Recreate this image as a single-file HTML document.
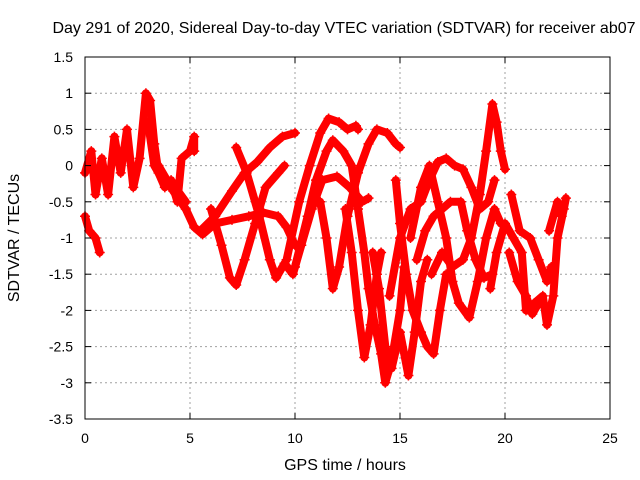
<!DOCTYPE html>
<html><head><meta charset="utf-8"><style>
body{margin:0;background:#fff;}
svg{display:block;font-family:"Liberation Sans",Arial,sans-serif;}
</style></head><body>
<svg id="chart" width="640" height="480">
<text x="344" y="33" text-anchor="middle" font-size="16">Day 291 of 2020, Sidereal Day-to-day VTEC variation (SDTVAR) for receiver ab07</text>
<text x="345" y="470" text-anchor="middle" font-size="16">GPS time / hours</text>
<text transform="translate(19,238) rotate(-90)" text-anchor="middle" font-size="16">SDTVAR / TECUs</text>
<g id="grid"></g><g id="series"></g><g id="axes"></g>
</svg>
<script>
const xTicks=[0,5,10,15,20,25];
const yTicks=[1.5,1,0.5,0,-0.5,-1,-1.5,-2,-2.5,-3,-3.5];
const yTickLabels=["1.5","1","0.5","0","-0.5","-1","-1.5","-2","-2.5","-3","-3.5"];
const traceA=[[0,-0.1],[0.3,0.2],[0.5,-0.4],[0.8,0.1],[1.1,-0.4],[1.4,0.4],[1.7,-0.1],[2.0,0.5],[2.3,-0.3],[2.6,0.1],[2.9,1.0],[3.1,0.9],[3.3,0.3],[3.5,-0.1],[3.8,-0.3],[4.1,-0.2],[4.4,-0.5],[4.6,0.1],[5.0,0.2],[5.2,0.4],[5.2,0.2]];
const traceB=[[0,-0.7],[0.2,-0.9],[0.5,-1.0],[0.7,-1.2]];
const traceC=[[3.5,0],[4.2,-0.35],[4.8,-0.6],[5.2,-0.85],[5.6,-0.95],[6.2,-0.8],[7,-0.75],[7.8,-0.7],[8.5,-0.65],[9.2,-0.7],[9.6,-0.85],[10,-1.1]];
const traceD=[[5.5,-0.9],[6.2,-0.7],[7,-0.35],[7.6,-0.1],[8.2,0.05],[8.8,0.25],[9.4,0.4],[10,0.45]];
const traceE=[[6,-0.6],[6.5,-1.1],[6.9,-1.55],[7.2,-1.65],[7.6,-1.3],[8.1,-0.8],[8.6,-0.3],[9.2,-0.1],[9.5,0.0]];
const traceF=[[7.2,0.25],[7.7,-0.1],[8.3,-0.7],[8.8,-1.3],[9.1,-1.55],[9.5,-1.35],[9.9,-1.5],[10.3,-1.1],[10.8,-0.6],[11.3,-0.2],[12,-0.15],[12.6,-0.3],[13.2,-0.5],[13.5,-0.45]];
const traceG=[[9.6,-1.3],[10.2,-0.5],[10.7,0],[11.2,0.45],[11.6,0.65],[12.1,0.6],[12.5,0.5],[12.9,0.55],[13.0,0.5]];
const traceH=[[10,-1.4],[10.6,-0.7],[11,-0.2],[11.5,0.2],[11.8,0.35],[12.3,0.2],[12.7,0],[13.0,-0.6],[13.3,-1.2],[13.5,-1.7],[13.8,-2.2],[14.1,-2.6],[14.3,-3.0],[14.6,-2.7],[15,-2.0],[15.2,-1.4]];
const traceI=[[11.2,-0.5],[11.5,-1.0],[11.8,-1.7],[12.1,-1.4],[12.5,-0.7],[13,-0.1],[13.5,0.3],[13.9,0.5],[14.4,0.45],[14.8,0.3],[15,0.25]];
const traceJ=[[12.4,-0.6],[12.7,-1.2],[13.0,-2.0],[13.3,-2.65],[13.6,-2.2],[13.9,-1.5],[14.1,-1.2]];
const traceK=[[13.7,-1.2],[14.0,-1.7],[14.3,-2.5],[14.6,-2.8],[15.0,-2.3],[15.4,-2.9],[15.7,-2.3],[16.0,-1.6],[16.3,-1.3]];
const traceL=[[14.8,-0.2],[15.0,-0.8],[15.3,-1.5],[15.6,-2.0],[16.0,-2.3],[16.3,-2.5],[16.6,-2.6],[16.9,-2.0],[17.2,-1.5]];
const traceM=[[14.5,-1.8],[15,-1.0],[15.5,-0.6],[16,-0.5],[16.4,-0.2],[16.8,0.05],[17.2,0.1],[17.6,0],[18,-0.05],[18.4,-0.3],[18.8,-0.6],[19.2,-0.5],[19.5,-0.2]];
const traceN=[[15.8,-1.3],[16.2,-0.9],[16.6,-0.7],[17.0,-0.6],[17.4,-0.5],[17.9,-0.5],[18.2,-0.9],[18.6,-1.3],[19,-1.55],[19.4,-1.5]];
const traceO=[[15.5,-1.0],[16.0,-0.3],[16.4,0],[16.8,-0.5],[17.2,-1.0],[17.5,-1.6],[17.8,-1.9],[18.3,-2.1],[18.7,-1.6],[19.1,-1.0],[19.5,-0.6],[19.8,-0.8]];
const traceP=[[16.5,-1.5],[17,-1.2],[17.5,-1.4],[18,-1.3],[18.4,-1.0],[18.8,-0.4],[19.1,0.2],[19.4,0.85],[19.6,0.6],[19.8,0.2],[20,-0.05]];
const traceQ=[[19.3,-1.7],[19.6,-1.2],[20,-0.8],[20.4,-1.0],[20.8,-1.2],[21,-2.0],[21.4,-1.9],[21.8,-1.8],[22.0,-2.2],[22.3,-1.8],[22.5,-1.0],[22.8,-0.6],[22.9,-0.45]];
const traceR=[[20.3,-0.4],[20.7,-0.9],[21.2,-1.0],[21.6,-1.3],[22,-1.6],[22.2,-1.4]];
const traceS=[[22.1,-0.9],[22.5,-0.5],[22.7,-0.7]];
const traceT=[[3.0,0.6],[3.3,0.0],[3.7,-0.2],[4.3,-0.3],[4.8,-0.5]];
const traceU=[[20.2,-1.2],[20.6,-1.6],[21.0,-1.8],[21.3,-2.05],[21.6,-1.9]];
const traces=[traceA,traceB,traceC,traceD,traceE,traceF,traceG,traceH,traceI,traceJ,traceK,traceL,traceM,traceN,traceO,traceP,traceQ,traceR,traceS,traceT,traceU];

const X0=85,X1=610,Y0=57,Y1=419;
const xs=v=>X0+(v-0)/(25-0)*(X1-X0);
const ys=v=>Y0+(1.5-v)/(1.5+3.5)*(Y1-Y0);
const NS="http://www.w3.org/2000/svg";
function mk(tag,attrs,parent){const e=document.createElementNS(NS,tag);for(const k in attrs)e.setAttribute(k,attrs[k]);parent.appendChild(e);return e;}
const grid=document.getElementById('grid'),axes=document.getElementById('axes'),series=document.getElementById('series');
xTicks.forEach((t,i)=>{
  const x=xs(t);
  if(t>0&&t<25){const g=mk('line',{x1:x,x2:x,y1:Y0,y2:Y1,stroke:'#a0a0a0','stroke-dasharray':'2,3'},grid);
  
  }
  const tk=mk('line',{x1:x,x2:x,y1:Y1,y2:Y1-6,stroke:'#000'},axes);
  
  
  const tk2=mk('line',{x1:x,x2:x,y1:Y0,y2:Y0+6,stroke:'#000'},axes);
  
  
  const tx=mk('text',{x:x,y:Y1+24,'text-anchor':'middle','font-size':14},axes);
  tx.textContent=String(t);
  
  
});
yTicks.forEach((t,i)=>{
  const y=ys(t);
  if(t<1.5&&t>-3.5){const g=mk('line',{x1:X0,x2:X1,y1:y,y2:y,stroke:'#a0a0a0','stroke-dasharray':'2,3'},grid);
  
  }
  const tk=mk('line',{x1:X0,x2:X0+6,y1:y,y2:y,stroke:'#000'},axes);
  
  
  const tk2=mk('line',{x1:X1,x2:X1-6,y1:y,y2:y,stroke:'#000'},axes);
  
  
  const tx=mk('text',{x:X0-12,y:y+5,'text-anchor':'end','font-size':14},axes);
  tx.textContent=yTickLabels[i];
  
  
});
const frame=mk('rect',{x:X0,y:Y0,width:X1-X0,height:Y1-Y0,fill:'none',stroke:'#000'},axes);


traces.forEach(tr=>{
  const pl=mk('polyline',{points:tr.map(p=>xs(p[0])+','+ys(p[1])).join(' '),fill:'none',stroke:'#ff0000','stroke-width':8,'stroke-linejoin':'round','stroke-linecap':'round'},series);
  
  
  tr.forEach(p=>{
    const m=mk('path',{d:`M${xs(p[0])-5},${ys(p[1])}h10M${xs(p[0])},${ys(p[1])-5}v10`,stroke:'#ff0000','stroke-width':1.5},series);
    
    
  });
});
</script>
</body></html>
